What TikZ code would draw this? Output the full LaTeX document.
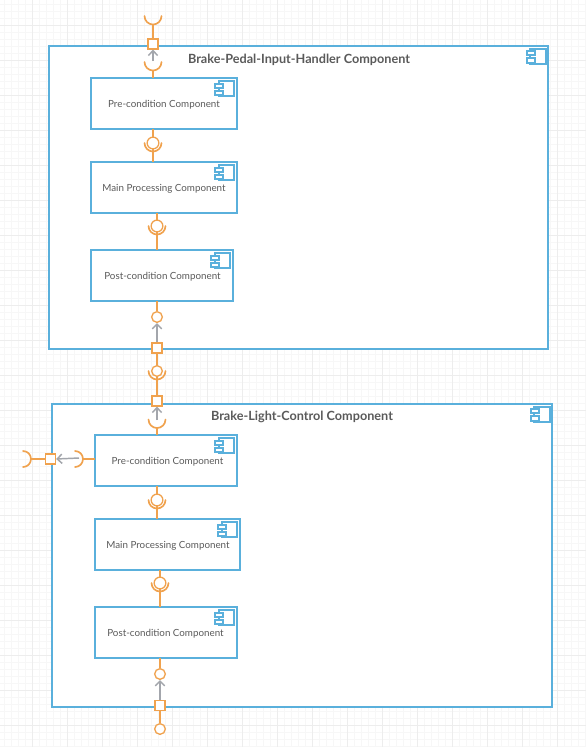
\documentclass[tikz,border=0pt]{standalone}
\usepackage{fontspec}
\setmainfont{Lato}
\usetikzlibrary{arrows.meta}
\definecolor{cblue}{HTML}{5AB0DC}
\definecolor{corange}{HTML}{F0A24E}
\definecolor{cgray}{HTML}{A3A6AC}
\definecolor{ctext}{HTML}{5A5A5A}
\tikzset{
  x=0.75pt,y=-0.75pt,
  bigbox/.style={draw=cblue,line width=1.5pt*0.75,fill=white,rectangle,inner sep=0pt,outer sep=0pt,anchor=north west},
  subbox/.style={draw=cblue,line width=1.5pt*0.75,fill=white,rectangle,inner sep=0pt,outer sep=0pt,anchor=north west},
  bigtitle/.style={font=\fontsize{9.5pt}{11pt}\selectfont\bfseries,text=ctext,inner sep=0pt},
  lab/.style={font=\fontsize{7.35pt}{9pt}\selectfont,text=ctext,inner sep=0pt},
  iconpart/.style={draw=cblue,line width=0.9pt,fill=white},
  wire/.style={draw=corange,line width=1.1pt},
  socket/.style={draw=corange,line width=1.25pt,line cap=round},
  ball/.style={circle,draw=corange,line width=1pt,fill=white,minimum size=8.8pt,inner sep=0pt},
  smallball/.style={ball,minimum size=8pt},
  port/.style={rectangle,draw=corange,line width=1.1pt,fill=white,minimum size=7.4pt,inner sep=0pt},
  dep/.style={draw=cgray,line width=1.1pt,-{Straight Barb[length=3.6pt,width=7pt,line width=1.1pt]}},
}
\newcommand{\compbox}[6]{%
  \node[#6,minimum width=(#4-#2)*0.75pt,minimum height=(#5-#3)*0.75pt] (#1) at (#2,#3) {};}
\newcommand{\compicon}[2]{%
  \draw[iconpart] (#1-18,#2+3) rectangle (#1-3,#2+18);
  \draw[iconpart] (#1-22,#2+6) rectangle (#1-14,#2+10);
  \draw[iconpart] (#1-22,#2+13) rectangle (#1-14,#2+17);}
\newcommand{\bigicon}[2]{%
  \draw[iconpart] (#1-18,#2+3) rectangle (#1-2,#2+18);
  \draw[iconpart] (#1-21,#2+5) rectangle (#1-13,#2+9);
  \draw[iconpart] (#1-21,#2+12) rectangle (#1-13,#2+17);}
% socket semicircle opening upward: end points at y=#2, radius #3
\newcommand{\arcup}[3]{\draw[socket] (#1-#3,#2) arc[start angle=180,end angle=360,radius=#3*0.75pt];}
\begin{document}
\begin{tikzpicture}
\useasboundingbox (0,0) rectangle (586,747);
\fill[white] (0,0) rectangle (586,747);
% background grid
\foreach \k in {0,...,84} {\draw[color=black!3,line width=0.4pt] (4+\k*7,0) -- (4+\k*7,747);}
\foreach \k in {0,...,107} {\draw[color=black!3,line width=0.4pt] (0,4+\k*7) -- (586,4+\k*7);}
\foreach \k in {-1,...,16} {\draw[color=black!7,line width=0.5pt] (32+\k*35,0) -- (32+\k*35,747);}
\foreach \k in {0,...,21} {\draw[color=black!7,line width=0.5pt] (0,25+\k*35) -- (586,25+\k*35);}

% containers
\compbox{bigA}{49}{46}{548}{349}{bigbox}
\compbox{bigB}{52}{404}{552}{707}{bigbox}
\node[bigtitle] (titleA) at (299,59.5) {Brake-Pedal-Input-Handler Component};
\node[bigtitle] (titleB) at (302,416.5) {Brake-Light-Control Component};
\bigicon{548}{46}
\bigicon{552}{404}

% inner components
\compbox{preA}{91}{78}{237}{129}{subbox}
\compbox{mainA}{91}{162}{237}{213}{subbox}
\compbox{postA}{91}{250}{233}{301}{subbox}
\compbox{preB}{95}{435}{237}{486}{subbox}
\compbox{mainB}{95}{519}{240}{570}{subbox}
\compbox{postB}{95}{607}{237}{658}{subbox}
\node[lab] (lpreA) at (164,104.5) {Pre-condition Component};
\node[lab] (lmainA) at (164,188.5) {Main Processing Component};
\node[lab] (lpostA) at (162.5,276.5) {Post-condition Component};
\node[lab] (lpreB) at (167.5,461.5) {Pre-condition Component};
\node[lab] (lmainB) at (168,545.5) {Main Processing Component};
\node[lab] (lpostB) at (165.5,633.5) {Post-condition Component};
\compicon{237}{78}
\compicon{237}{162}
\compicon{233}{250}
\compicon{237}{435}
\compicon{240}{519}
\compicon{237}{607}

% --- top interface
\coordinate (s1) at (153,24);
\coordinate (s2) at (153,70);
\coordinate (preAtop) at (153,78);
\draw[wire] (preAtop) -- (s2);
\arcup{153}{62}{8.5}
\arcup{153}{16}{8.5}
\node[port] (p1) at (153,44) {};
\draw[wire] (s1) -- (p1);
\coordinate (d1) at (153,61);
\draw[dep] (d1) -- (p1.south);

% --- A: pre -> main
\coordinate (a1) at (153,129); \coordinate (a2) at (153,162);
\draw[wire] (a1) -- (a2);
\arcup{153}{143}{8.5}
\node[ball] (b1) at (153,143) {};
% --- A: main -> post
\coordinate (a3) at (157,213); \coordinate (a4) at (157,250);
\draw[wire] (a3) -- (a4);
\arcup{157}{226}{8.5}
\node[ball] (b2) at (157,226) {};
% --- A: post -> out
\node[smallball] (b3) at (157,317) {};
\coordinate (a5) at (157,301);
\draw[wire] (a5) -- (b3);
\node[port] (p2) at (157,348) {};
\draw[dep] (p2.north) -- (b3.south);
% --- link between containers
\node[port] (p3) at (157,401) {};
\draw[wire] (p2) -- (p3);
\arcup{157}{371}{8.5}
\node[smallball] (b4) at (157,371) {};
\node[port] (p3b) at (157,401) {};
\coordinate (d2) at (157,420);
\draw[dep] (d2) -- (p3b.south);
\arcup{157}{419.5}{8.5}
\coordinate (s3) at (157,428); \coordinate (s4) at (157,435);
\draw[wire] (s3) -- (s4);

% --- left interface
\node[port] (p4) at (50.5,459) {};
\coordinate (s5) at (31,459);
\draw[wire] (s5) -- (p4);
\draw[socket] (23,451) arc[start angle=90,end angle=-90,radius=6pt];
\coordinate (d3) at (79,458);
\draw[dep] (d3) -- (p4.east);
\draw[socket] (75,451) arc[start angle=90,end angle=-90,radius=6pt];
\coordinate (s6) at (83,459); \coordinate (s7) at (95,459);
\draw[wire] (s6) -- (s7);

% --- B: pre -> main
\coordinate (c1) at (157,486); \coordinate (c2) at (157,519);
\draw[wire] (c1) -- (c2);
\arcup{157}{500}{8.5}
\node[ball] (b5) at (157,500) {};
% --- B: main -> post
\coordinate (c3) at (160,570); \coordinate (c4) at (160,607);
\draw[wire] (c3) -- (c4);
\arcup{160}{583}{8.5}
\node[ball] (b6) at (160,583) {};
% --- B: post -> out
\node[smallball] (b7) at (160,674) {};
\coordinate (c5) at (160,658);
\draw[wire] (c5) -- (b7);
\node[port] (p5) at (160,705.5) {};
\draw[dep] (p5.north) -- (b7.south);
\node[smallball] (b8) at (160,729) {};
\draw[wire] (p5) -- (b8);
\end{tikzpicture}
\end{document}
